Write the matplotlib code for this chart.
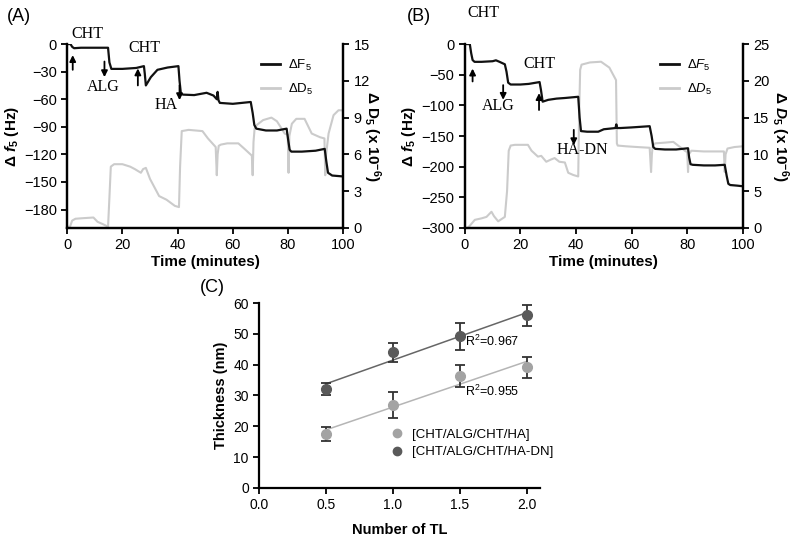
import numpy as np
import matplotlib
matplotlib.use('Agg')
import matplotlib.pyplot as plt
from matplotlib.lines import Line2D

plt.rcParams['font.family'] = ['Liberation Sans', 'DejaVu Sans']
plt.rcParams['mathtext.fontset'] = 'custom'
plt.rcParams['mathtext.rm'] = 'Liberation Sans'
plt.rcParams['mathtext.it'] = 'Liberation Sans:italic'
plt.rcParams['mathtext.bf'] = 'Liberation Sans:bold'
plt.rcParams['mathtext.bfit'] = 'Liberation Sans:bold:italic'

# ---- panel A: CHT/ALG/CHT/HA ----
tA_f = [0.5, 1.2, 1.8, 2.5, 5, 10, 14.8, 15.3, 16, 20, 25, 27.8, 28.1, 28.5, 30.3, 32.7, 36.4,
        40.3, 40.7, 41.2, 42, 46, 50.5, 53, 54.2, 54.5, 54.8, 55.3, 60, 66.5, 67.2, 67.8, 68.5,
        72, 76, 79.5, 80.1, 80.6, 81.2, 85, 90, 93.3, 93.9, 94.5, 96, 100]
fA = [0, 0, -3, -4.5, -4, -4, -4, -20, -27, -27, -26, -24, -32, -45, -36, -28, -25.5,
      -24, -40, -54, -55, -55.5, -53, -56, -60, -52, -61, -64, -65, -63, -75, -88, -92,
      -94, -94, -92, -105, -115, -117, -117, -116, -114, -128, -140, -143, -144]
tA_d = [0.5, 1.0, 1.8, 3, 6, 9.5, 11, 13, 14.8, 15.3, 15.8, 17, 20, 22.8, 24.5, 26.7, 27.5,
        28.5, 30, 33.3, 36, 39, 40.5, 40.9, 41.5, 44, 49, 51, 53.8, 54.2, 54.5, 54.9, 55.7,
        58, 62, 64, 66.9, 67.2, 67.5, 67.9, 68.7, 71, 74, 76, 78.8, 79.9, 80.2, 80.5, 81.4,
        83, 86, 88.6, 91.6, 93.2, 93.5, 93.8, 94.7, 96.5, 98.3, 100]
dA = [0.1, 0.1, 0.6, 0.75, 0.8, 0.85, 0.5, 0.3, 0.1, 2.5, 5.0, 5.2, 5.2, 5.0, 4.8, 4.5, 4.8,
      4.9, 4.0, 2.6, 2.3, 1.8, 1.7, 5.0, 7.9, 8.0, 7.9, 7.3, 6.6, 4.3, 6.0, 6.7, 6.8,
      6.9, 6.9, 6.5, 5.9, 4.3, 7.0, 8.1, 8.4, 8.8, 9.0, 8.7, 7.7, 7.6, 4.5, 7.5, 8.5,
      8.9, 8.9, 7.7, 7.4, 7.3, 4.3, 6.0, 7.7, 9.2, 9.6, 9.6]

# ---- panel B: CHT/ALG/CHT/HA-DN ----
tB_f = [0.5, 1.8, 2.3, 2.8, 3.5, 6, 10, 11.2, 12.5, 14.4, 15.0, 15.6, 16.5, 20, 23, 26.9, 27.4,
        28.0, 30, 33, 36, 40.8, 41.3, 41.8, 44, 48, 50, 54.2, 54.5, 54.8, 56, 60, 66.5, 67.2,
        67.8, 68.5, 72, 76, 80.3, 80.7, 81.2, 82, 86, 90, 93.5, 94.2, 94.8, 95.5, 98, 100]
fB = [0, 0, -15, -26, -29, -29, -28, -26.5, -29, -33, -45, -63, -66, -66, -65, -62, -75,
      -94, -91, -89, -88, -86, -120, -142, -143, -143, -139, -137, -131, -137, -137, -136, -134, -150,
      -168, -171, -172, -172, -170, -185, -196, -197, -198, -198, -197, -215, -228, -230, -231, -232]
tB_d = [1.0, 1.8, 3.6, 6, 7.8, 9.6, 10.5, 12, 14.4, 15.2, 15.8, 16.5, 18, 22.7, 24, 26.3, 27.5,
        29.3, 31, 32.3, 34, 36, 37.2, 39, 40.8, 41.1, 41.5, 42, 45, 49, 52, 54.4, 54.7, 55,
        58, 62, 66.5, 67.0, 67.3, 67.6, 68.5, 72, 75, 79.5, 80.0, 80.3, 80.6, 81.5, 86, 90,
        93.2, 93.5, 93.8, 94.5, 97, 100]
dB = [0.0, 0.3, 1.1, 1.3, 1.5, 2.2, 1.6, 0.9, 1.5, 5.0, 10.5, 11.2, 11.3, 11.3, 10.5, 9.7, 9.8,
      9.0, 9.3, 9.5, 9.0, 8.9, 7.5, 7.2, 7.0, 15.0, 21.5, 22.2, 22.5, 22.6, 21.8, 20.1, 11.5, 11.2,
      11.1, 11.0, 10.9, 7.6, 10.0, 11.2, 11.5, 11.6, 11.7, 10.4, 10.4, 7.6, 10.0, 10.5, 10.4, 10.4,
      10.4, 7.6, 10.0, 10.8, 11.0, 11.1]

# ---- panel C: thickness vs number of tetralayers ----
tl = [0.5, 1.0, 1.5, 2.0]
thick_ha = [17.5, 27.0, 36.2, 39.1]
err_ha = [2.2, 4.2, 3.6, 3.3]
thick_hadn = [32.1, 44.0, 49.2, 56.0]
err_hadn = [2.0, 3.1, 4.4, 3.3]
r2_ha, r2_hadn = 0.955, 0.967

BLACK = '#111111'
GREY_D = '#cbcbcb'
LIGHT = '#a3a3a3'
DARK = '#5a5a5a'

fig = plt.figure(figsize=(8, 5.44), dpi=100)


def qcm_panel(rect, t_f, f, t_d, d, fmin, fstep, dmax, dstep, italic, labels, arrows, rpad):
    ax = fig.add_axes(rect)
    ax2 = ax.twinx()
    ax2.plot(t_d, d, color=GREY_D, lw=1.5)
    ax.plot(t_f, f, color=BLACK, lw=1.6)
    ax.set_zorder(ax2.get_zorder() + 1)
    ax.patch.set_visible(False)

    ax.set_xlim(0, 100)
    ax.set_ylim(fmin, 0)
    ax2.set_ylim(0, dmax)
    ax.set_xticks(range(0, 101, 20))
    if fmin == -200:
        ax.set_yticks(range(-180, 1, 30))
    else:
        ax.set_yticks(range(fmin, 1, fstep))
    ax2.set_yticks(range(0, dmax + 1, dstep))

    for a in (ax, ax2):
        a.spines['top'].set_visible(False)
        for s in ('left', 'right', 'bottom'):
            a.spines[s].set_linewidth(1.6)
        a.tick_params(direction='out', length=4, width=1.3, labelsize=10.5)

    ax.set_xlabel('Time (minutes)', fontsize=11, fontweight='bold', labelpad=2)
    ax.set_ylabel(r'Δ $\mathbfit{f}_\mathbf{5}$ (Hz)', fontsize=11, fontweight='bold', labelpad=2)
    dsym = r'\mathbfit{D}' if italic else r'\mathbf{D}'
    ax2.set_ylabel(r'Δ $%s_\mathbf{5}$ (x 10$^\mathbf{-6}$)' % dsym, fontsize=11,
                   fontweight='bold', rotation=270, labelpad=rpad)

    if italic:
        lf, ld = r'$\Delta F_5$', r'$\Delta D_5$'
    else:
        lf, ld = r'$\Delta\mathrm{F}_5$', r'$\Delta\mathrm{D}_5$'
    handles = [Line2D([], [], color=BLACK, lw=2), Line2D([], [], color=GREY_D, lw=2)]
    ax.legend(handles, [lf, ld], loc='upper left', bbox_to_anchor=(0.66, 0.99), frameon=False,
              fontsize=9.5, handlelength=1.4, handletextpad=0.6, labelspacing=0.7)

    for txt, x, y in labels:
        ax.text(x, y, txt, family='Liberation Serif', fontsize=11.5, ha='center', va='center',
                clip_on=False)
    for x, y0, y1 in arrows:
        ax.annotate('', xy=(x, y1), xytext=(x, y0),
                    arrowprops=dict(arrowstyle='-|>', color='k', lw=1.3, mutation_scale=9,
                                    shrinkA=0, shrinkB=0))
    return ax


qcm_panel([0.084, 0.581, 0.345, 0.338], tA_f, fA, tA_d, dA, -200, 30, 15, 3, False,
          [('CHT', 7.2, 11), ('ALG', 13, -47), ('CHT', 28, -4), ('HA', 36, -66)],
          [(2.0, -28, -12), (13.5, -19, -36), (25.6, -45, -26.5), (40.7, -45, -61)], 9)
qcm_panel([0.581, 0.581, 0.3475, 0.338], tB_f, fB, tB_d, dB, -300, 50, 25, 5, True,
          [('CHT', 6.8, 50), ('ALG', 11.9, -101), ('CHT', 27, -32.6), ('HA-DN', 42.4, -173)],
          [(2.8, -61, -40), (13.8, -67, -91), (26.7, -107.6, -80), (39.2, -140, -165)], 15)

# panel C
axc = fig.add_axes([0.324, 0.103, 0.351, 0.340])
xfit = np.array([0.5, 2.0])
for y, e, col, lcol in ((thick_ha, err_ha, LIGHT, '#b5b5b5'), (thick_hadn, err_hadn, DARK, '#666666')):
    k, b = np.polyfit(tl, y, 1)
    axc.plot(xfit, k * xfit + b, color=lcol, lw=1.1, zorder=1)
    axc.errorbar(tl, y, yerr=e, fmt='o', color=col, ms=7, ecolor='#333333', elinewidth=1.3,
                 capsize=3.5, capthick=1.3, zorder=2)
axc.text(1.54, 47.6, 'R$^2$=%.3f' % r2_hadn, fontsize=9, ha='left', va='center')
axc.text(1.54, 31.3, 'R$^2$=%.3f' % r2_ha, fontsize=9, ha='left', va='center')
hc = [Line2D([], [], ls='', marker='o', color=LIGHT, ms=6),
      Line2D([], [], ls='', marker='o', color=DARK, ms=6)]
axc.legend(hc, ['[CHT/ALG/CHT/HA]', '[CHT/ALG/CHT/HA-DN]'], loc='center left',
           bbox_to_anchor=(0.40, 0.24), frameon=False, fontsize=9.5, handletextpad=0.2,
           labelspacing=0.4)
axc.set_xlim(0, 2.1)
axc.set_ylim(0, 60)
axc.set_xticks([0.0, 0.5, 1.0, 1.5, 2.0])
axc.set_yticks(range(0, 61, 10))
axc.spines['top'].set_visible(False)
axc.spines['right'].set_visible(False)
axc.spines['left'].set_linewidth(1.6)
axc.spines['bottom'].set_linewidth(1.6)
axc.tick_params(direction='out', length=4, width=1.3, labelsize=10)
axc.set_xlabel('Number of TL', fontsize=10.5, fontweight='bold', labelpad=8)
axc.set_ylabel('Thickness (nm)', fontsize=10.5, fontweight='bold', labelpad=4)

fig.text(0.009, 0.985, '(A)', fontsize=13, va='top')
fig.text(0.509, 0.985, '(B)', fontsize=13, va='top')
fig.text(0.250, 0.487, '(C)', fontsize=13, va='top')

fig.savefig('out.png', dpi=100)
